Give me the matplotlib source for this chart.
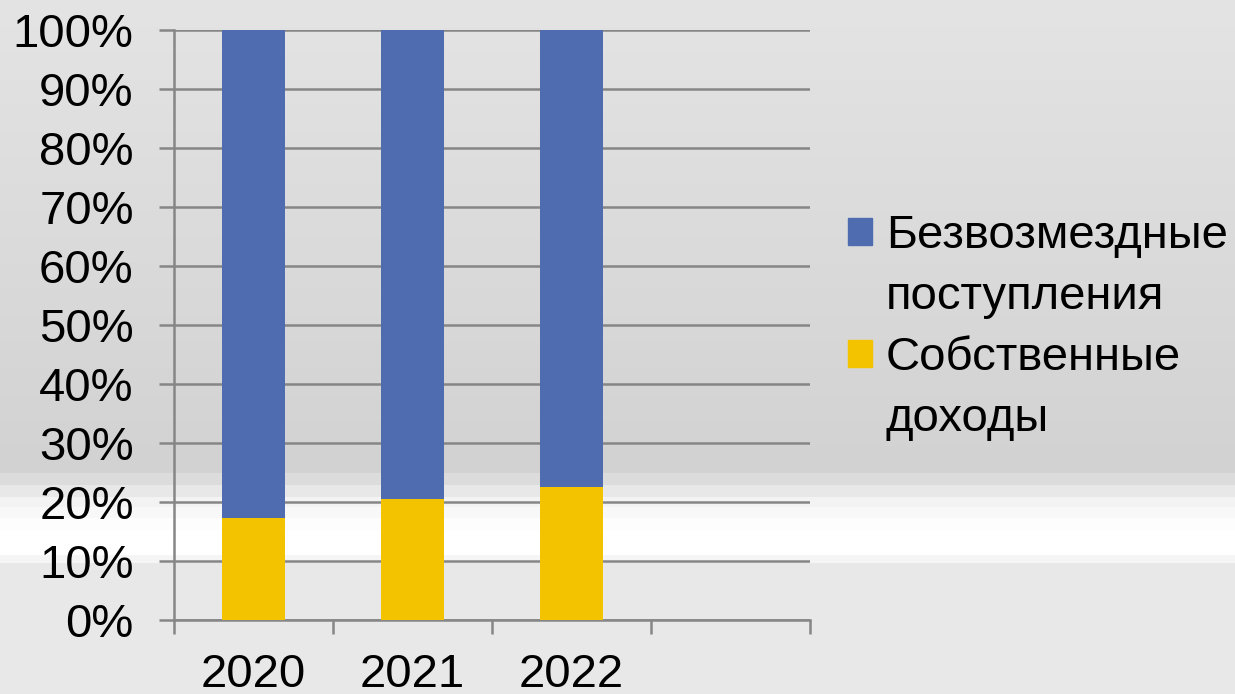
import numpy as np
import matplotlib
matplotlib.use("Agg")
import matplotlib.pyplot as plt
from matplotlib.patches import Patch
from matplotlib.ticker import FixedLocator, PercentFormatter

# данные (доли, %)
years = ["2020", "2021", "2022"]
own_income = [17.3, 20.5, 22.6]        # Собственные доходы
grants = [82.7, 79.5, 77.4]            # Безвозмездные поступления
n_slots = 4                            # в исходной диаграмме есть пустой четвёртый слот

plt.rcParams['font.family'] = ['Liberation Sans', 'DejaVu Sans']

W, H = 1235, 694
fig = plt.figure(figsize=(W / 100, H / 100), dpi=100)

# фон: серый градиент со светлой полосой
rows = np.empty(H)
rows[:473] = np.linspace(228, 210, 473)
rows[473:485] = 220
rows[485:497] = 232
rows[497:507] = 243
rows[507:518] = 248
rows[518:530] = 253
rows[530:555] = 255
rows[555:563] = 245
rows[563:] = 232
bg = np.repeat((rows / 255.0)[:, None], 3, axis=1)[:, None, :]
bax = fig.add_axes([0, 0, 1, 1], zorder=-1)
bax.imshow(bg, aspect='auto', extent=[0, 1, 0, 1], interpolation='nearest')
bax.axis('off')

ax = fig.add_axes([174 / W, (H - 620) / H, 636 / W, 590 / H])
ax.set_facecolor('none')

own = np.array(own_income)
gr = np.array(grants)
tot = own + gr
own_p = own / tot * 100
gr_p = gr / tot * 100

x = np.arange(len(years))
blue = '#506cb0'
yellow = '#f4c300'
ax.bar(x, own_p, width=0.4, color=yellow, zorder=3)
ax.bar(x, gr_p, bottom=own_p, width=0.4, color=blue, zorder=3)

ax.set_xlim(-0.5, n_slots - 0.5)
ax.set_ylim(0, 100)

gcol = '#868686'
fs = 34
ax.yaxis.set_major_locator(FixedLocator(np.arange(0, 101, 10)))
ax.yaxis.set_major_formatter(PercentFormatter(decimals=0))
ax.grid(axis='y', color=gcol, linewidth=1.8, zorder=1)
ax.set_axisbelow(True)

ax.set_xticks(np.arange(n_slots + 1) - 0.5)
ax.set_xticklabels([])
ax.set_xticks(x, minor=True)
ax.set_xticklabels(years, minor=True)

ax.tick_params(axis='x', which='major', length=10, width=1.8, color=gcol, direction='out')
ax.tick_params(axis='x', which='minor', length=0, pad=24, labelsize=fs)
ax.tick_params(axis='y', length=11, width=1.8, color=gcol, pad=18, labelsize=fs)

for s in ['top', 'right']:
    ax.spines[s].set_visible(False)
for s in ['left', 'bottom']:
    ax.spines[s].set_color(gcol)
    ax.spines[s].set_linewidth(1.8)

# легенда: перенос строки через пустые маркеры
handles = [Patch(color=blue), Patch(color='none'), Patch(color=yellow), Patch(color='none')]
labels = ["Безвозмездные", "поступления", "Собственные", "доходы"]
fig.legend(handles, labels, loc='upper left', bbox_to_anchor=(848 / W, 1 - 214 / H),
           frameon=False, fontsize=fs, handlelength=0.5, handleheight=0.5,
           handletextpad=0.3, labelspacing=0.36, borderpad=0, borderaxespad=0)

fig.savefig("out.png", dpi=100)
